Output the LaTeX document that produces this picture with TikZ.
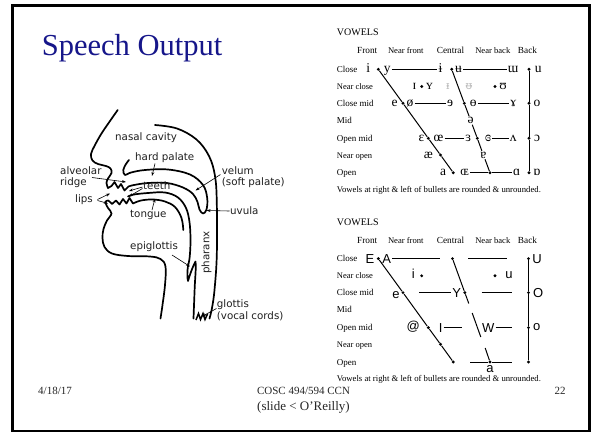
\documentclass[tikz,border=0pt]{standalone}
\usepackage{fontspec}
\setmainfont{Liberation Serif}
\newfontfamily\headfont{DejaVu Sans}
\newfontfamily\ipafont{Liberation Serif}
\newfontfamily\ipaextra{Noto Sans}
\newfontfamily\chartsans{Liberation Sans}
\usetikzlibrary{arrows.meta}
\definecolor{titleblue}{RGB}{22,22,138}
\definecolor{ipagray}{RGB}{190,190,190}
\newcommand\vchartframe[1]{%
  \node[vowtitle] (#1vow) at (336.7,35.8) {VOWELS};
  \node[colhead] (#1hF) at (367.2,53.7) {Front};
  \node[colheadsm] (#1hNF) at (405.8,53.7) {Near front};
  \node[colhead] (#1hC) at (450.5,53.7) {Central};
  \node[colheadsm] (#1hNB) at (492.8,53.7) {Near back};
  \node[colhead] (#1hB) at (527.5,53.7) {Back};
  \node[rowlab] (#1rC) at (336.7,72.3) {Close};
  \node[rowlabsm] (#1rNC) at (336.7,89.5) {Near close};
  \node[rowlab] (#1rCM) at (336.7,106.3) {Close mid};
  \node[rowlab] (#1rM) at (336.7,123.5) {Mid};
  \node[rowlab] (#1rOM) at (336.7,141.3) {Open mid};
  \node[rowlabsm] (#1rNO) at (336.7,158) {Near open};
  \node[rowlab] (#1rO) at (336.7,175.7) {Open};
  \node[notelab] (#1note) at (336.7,192.3) {Vowels at right \& left of bullets are rounded \& unrounded.};
}
\begin{document}
\begin{tikzpicture}[x=1pt,y=-1pt,
  headline/.style={line width=1.7pt, line cap=round, line join=round},
  hlbl/.style={anchor=base west, inner sep=0pt, text=black!88, font=\headfont\fontsize{10.3}{12}\selectfont},
  pointer/.style={line width=0.6pt, -{Stealth[length=4pt,width=2.8pt]}},
  vowtitle/.style={anchor=base west, inner sep=0pt, font=\fontsize{10}{12}\selectfont},
  colhead/.style={anchor=base, inner sep=0pt, font=\fontsize{9.3}{11}\selectfont},
  colheadsm/.style={anchor=base, inner sep=0pt, font=\fontsize{8.6}{10}\selectfont},
  rowlab/.style={anchor=base west, inner sep=0pt, font=\fontsize{9}{11}\selectfont},
  rowlabsm/.style={anchor=base west, inner sep=0pt, font=\fontsize{8.5}{10}\selectfont},
  notelab/.style={anchor=base west, inner sep=0pt, font=\fontsize{8.7}{10}\selectfont},
  ipa/.style={inner sep=1pt, text height=6pt, text depth=0pt, font=\ipafont\fontsize{13.5}{15}\selectfont},
  ipag/.style={inner sep=1pt, text height=6pt, text depth=0pt, text=ipagray, font=\ipaextra\fontsize{11}{13}\selectfont},
  sampa/.style={inner sep=1pt, text height=6pt, text depth=0pt, font=\chartsans\fontsize{13}{15}\selectfont},
  sampacap/.style={inner sep=1pt, text height=9pt, text depth=0pt, font=\chartsans\fontsize{13}{15}\selectfont},
  bul/.style={circle, fill, inner sep=0pt, minimum size=3.2pt},
  vline/.style={line width=1pt},
  foot/.style={inner sep=0pt, text=black!85, font=\fontsize{11}{13}\selectfont}
]
\useasboundingbox (0,0) rectangle (595,437);
\fill[white] (0,0) rectangle (595,437);
\draw[line width=2.4pt] (12.5,5.5) rectangle (589.3,431);

% ---------- title and footer ----------
\node[anchor=base west, inner sep=0pt, text=titleblue, font=\fontsize{30.5}{36}\selectfont] (title) at (41.7,55) {Speech Output};
\node[foot, anchor=base west] (date) at (38,394) {4/18/17};
\node[foot, anchor=base] (course) at (303.5,394) {COSC 494/594 CCN};
\node[foot, anchor=base] (page) at (560,394) {22};
\node[inner sep=0pt, anchor=base, text=black!85, font=\fontsize{13}{15}\selectfont] (credit) at (303.5,410.5) {(slide < O’Reilly)};

% ---------- head ----------
% face, upper lip, upper teeth, palate, velum, uvula
\draw[headline] plot[smooth, tension=0.6] coordinates {(117.7,110) (110,121) (101.5,133.5) (95,145) (91,154) (92.5,160.5) (98,164) (106,166) (110.5,168.5) (111.5,173) (108,178.5) (106.5,183) (108,188)}
  -- (111.5,186) -- (114.5,182) -- (118,188) -- (121,184) -- (124.5,190.5) -- (128.5,186.5)
  plot[smooth, tension=0.6] coordinates {(128.5,186.5) (134,185) (148,183) (167,183) (183,187.5) (193,194) (197.5,202) (199.5,209.5) (203,213.5) (206.5,209.5) (207.2,198) (203,185) (190,174.5) (168,169.5) (145,170) (131,172.5) (125,175) (123.3,170) (126,164) (129,160)};
% tongue, lower teeth, lower lip, chin, neck
\draw[headline] plot[smooth, tension=0.6] coordinates {(183.3,230) (181.5,218) (175,207) (165,201.5) (153,199.5) (141,200.5) (133,203.5)}
  -- (129.5,198) -- (126.5,203.5) -- (123,199) -- (119.5,204.5) -- (116,200.5) -- (112,204)
  plot[smooth, tension=0.6] coordinates {(112,204) (108,200.5) (105.5,202.5) (108,208) (111.5,213.5) (107,220.5) (103.5,229) (102.5,238) (104.5,247) (112,253.5) (128,256) (150,256.5) (160.5,259) (165.5,266.5) (165,285) (162.5,305) (160.5,318.5)};
% back of mouth, epiglottis, larynx front
\draw[headline] plot[smooth, tension=0.6] coordinates {(128,196.5) (134,194.5) (148,193) (165,192.5) (178,197.5) (186,208) (189.5,222) (190.5,240) (189.7,257) (188,266)}
  .. controls (187,272) and (187.3,278) .. (188,281)
  .. controls (190,274) and (193,266) .. (195.5,261.5)
  .. controls (196.3,268) and (195,278) .. (194.6,290) -- (193.5,318.5);
% back of head and pharynx
\draw[headline] plot[smooth, tension=0.6] coordinates {(155,125) (177,128.5) (196.5,139.5) (209,156) (215,176) (216.8,203) (216.8,255) (214.5,290) (212,308) (209.5,318.5)};
% glottis
\draw[line width=1.5pt, line join=miter] (196,320) -- (198.5,313.5) -- (200.5,319.5) -- (203,313.5) -- (205,319.5) -- (207.5,314);

% head labels
\node[hlbl] (nasal) at (115,140.5) {nasal cavity};
\node[hlbl] (hard) at (135,160.5) {hard palate};
\node[hlbl] (alv) at (60,174.3) {alveolar};
\node[hlbl] (ridge) at (60,185.3) {ridge};
\node[hlbl] (lips) at (75,202.3) {lips};
\node[hlbl] (teeth) at (143,189.5) {teeth};
\node[hlbl] (tongue) at (130,217.3) {tongue};
\node[hlbl] (velum) at (221.7,174.3) {velum};
\node[hlbl] (soft) at (221.7,185.3) {(soft palate)};
\node[hlbl] (uvula) at (230,214.5) {uvula};
\node[hlbl] (epi) at (130,249.5) {epiglottis};
\node[hlbl, anchor=base, rotate=90] (phar) at (209.3,252.5) {pharanx};
\node[hlbl] (glot) at (216.7,307.3) {glottis};
\node[hlbl] (vocal) at (216.7,319.3) {(vocal cords)};

% pointer ends
\coordinate (alvS) at (92,177.5);   \coordinate (alvT) at (126,182);
\coordinate (teS1) at (142.5,187);  \coordinate (teT1) at (129,191);
\coordinate (teS2) at (142.5,188.5);\coordinate (teT2) at (129,196.5);
\coordinate (liS1) at (97.5,199.5); \coordinate (liT1) at (110,193.5);
\coordinate (liS2) at (97.5,200.5); \coordinate (liT2) at (108,203.5);
\coordinate (hpS) at (155,163.5);   \coordinate (hpT) at (152,176);
\coordinate (veS) at (220.5,174.5); \coordinate (veT) at (195.5,190.5);
\coordinate (uvS) at (229.5,211);   \coordinate (uvT) at (206.5,210.5);
\coordinate (toS) at (152,210);     \coordinate (toT) at (155,198.5);
\coordinate (epS) at (172,255);     \coordinate (epT) at (190,266.5);
\coordinate (glS) at (216.5,308.5); \coordinate (glT) at (202,316.5);
\draw[pointer] (alvS) -- (alvT);
\draw[pointer] (teS1) -- (teT1);
\draw[pointer] (teS2) -- (teT2);
\draw[pointer] (liS1) -- (liT1);
\draw[pointer] (liS2) -- (liT2);
\draw[pointer] (hpS) -- (hpT);
\draw[pointer] (veS) -- (veT);
\draw[pointer] (uvS) -- (uvT);
\draw[pointer] (toS) -- (toT);
\draw[pointer] (epS) -- (epT);
\draw[pointer] (glS) -- (glT);

% ---------- vowel chart 1 (IPA) ----------
\begin{scope}
\vchartframe{A}
\node[bul] (Af1) at (378.3,69.3) {};
\node[bul] (Af3) at (403.0,103.3) {};
\node[bul] (Af5) at (428.3,138.3) {};
\node[bul] (Af6) at (440.5,155) {};
\node[bul] (Af7) at (453.3,172.7) {};
\node[bul] (Ac1) at (451.7,69.3) {};
\node[bul] (Ac3) at (464.3,103.3) {};
\node[bul] (Ac5) at (477.3,138.3) {};
\node[bul] (Ac7) at (490,172.7) {};
\node[bul] (Ab1) at (529,69.3) {};
\node[bul] (Ab3) at (529,103.3) {};
\node[bul] (Ab5) at (529,138.3) {};
\node[bul] (Ab7) at (529,172.7) {};
\node[bul] (An1) at (421.7,86.5) {};
\node[bul] (An2) at (495,86.5) {};
% close
\node[ipa] (Ai) at (368.3,69.3) {i};
\node[ipa] (Ay) at (387.3,69.3) {y};
\node[ipa] (Aibar) at (440.5,69.3) {ɨ};
\node[ipa] (Aubar) at (458.5,69.3) {ʉ};
\node[ipa] (Aturnm) at (513,69.3) {ɯ};
\node[ipa] (Au) at (538.3,69.3) {u};
% near close
\node[ipa] (Asmi) at (414.5,86.5) {ɪ};
\node[ipa] (Asmy) at (429.5,86.5) {ʏ};
\node[ipag] (Agi) at (448,86.5) {ᵻ};
\node[ipag] (Agu) at (469,86.5) {ᵿ};
\node[ipa] (Aups) at (503,86.5) {ʊ};
% close mid
\node[ipa] (Ae) at (394.5,103.3) {e};
\node[ipa] (Aosl) at (410,103.3) {ø};
\node[ipa] (Areve) at (450,103.3) {ɘ};
\node[ipa] (Abaro) at (473.3,103.3) {ɵ};
\node[ipa] (Aram) at (513.3,103.3) {ɤ};
\node[ipa] (Ao) at (537,103.3) {o};
% mid
\node[ipa] (Aschwa) at (470.7,120.5) {ə};
% open mid
\node[ipa] (Aeps) at (421.5,138.3) {ɛ};
\node[ipa] (Aoe) at (438.5,138.3) {œ};
\node[ipa] (Areveps) at (468.3,138.3) {ɜ};
\node[ipa] (Aclrev) at (488,138.3) {ɞ};
\node[ipa] (Awedge) at (513.3,138.3) {ʌ};
\node[ipa] (Aopo) at (537,138.3) {ɔ};
% near open
\node[ipa] (Aash) at (428.3,155) {æ};
\node[ipa] (Aturna) at (483.4,155) {ɐ};
% open
\node[ipa] (Aa) at (443,172.7) {a};
\node[ipa] (Aoeop) at (464.5,172.7) {ɶ};
\node[ipa] (Ascra) at (516.7,172.7) {ɑ};
\node[ipa] (Aturnscr) at (537,172.7) {ɒ};
% lines
\draw[vline] (Ay) -- (Aibar);
\draw[vline] (Aubar) -- (Aturnm);
\draw[vline] (Aosl) -- (Areve);
\draw[vline] (Abaro) -- (Aram);
\draw[vline] (Aoe) -- (Areveps);
\draw[vline] (Aclrev) -- (Awedge);
\draw[vline] (Aoeop) -- (Ac7) -- (Ascra);
\draw[vline] (Af1) -- (Af3) -- (Af5) -- (Af6) -- (Af7);
\draw[vline] (Ac1) -- (Ac3) -- (Aschwa) -- (Ac5) -- (Aturna) -- (Ac7);
\draw[vline] (Ab1) -- (Ab3) -- (Ab5) -- (Ab7);
\end{scope}

% ---------- vowel chart 2 (ASCII) ----------
\begin{scope}[shift={(0,189.3)}]
\vchartframe{B}
\node[bul] (Bf1) at (378.3,69.3) {};
\node[bul] (Bf3) at (403.0,103.3) {};
\node[bul] (Bf5) at (428.3,138.3) {};
\node[bul] (Bf6) at (440.5,155) {};
\node[bul] (Bf7) at (453.3,172.7) {};
\node[bul] (Bc1) at (452.5,69.3) {};
\node[bul] (Bc3) at (464.8,103.3) {};
\node[bul] (Bc7) at (490,172.7) {};
\node[bul] (Bb1) at (528.5,69.3) {};
\node[bul] (Bb3) at (528.5,103.3) {};
\node[bul] (Bb5) at (528.5,138.3) {};
\node[bul] (Bb7) at (528.5,172.7) {};
\node[bul] (Bn1) at (421.7,86.5) {};
\node[bul] (Bn2) at (495,86.5) {};
\node[sampacap] (BE) at (370,69.3) {E};
\node[sampacap] (BA) at (386.7,69.3) {A};
\node[sampacap] (BU) at (537,69.3) {U};
\node[sampa] (Bi) at (413.3,86.5) {i};
\node[sampa] (Bu) at (509,86.5) {u};
\node[sampa] (Be) at (396,106.3) {e};
\node[sampacap] (BY) at (456.7,103.3) {Y};
\node[sampacap] (BO) at (538.3,103.3) {O};
\node[sampa] (Bat) at (413.3,138.3) {@};
\node[sampacap] (BI) at (440.7,138.3) {I};
\node[sampacap] (BW) at (488.3,138.3) {W};
\node[sampa] (Bo) at (536.7,138.3) {o};
\node[sampa] (Ba) at (490,180) {a};
% free line ends
\coordinate (Bk1) at (440,69.3);
\coordinate (Bk2) at (468,69.3);
\coordinate (Bk3) at (506.7,69.3);
\coordinate (Bk4) at (419.3,103.3);
\coordinate (Bk5) at (481.7,103.3);
\coordinate (Bk6) at (511.7,103.3);
\coordinate (Bk7) at (461.7,138.3);
\coordinate (Bk8) at (511.7,138.3);
\coordinate (Bk9) at (470,172.7);
\coordinate (Bk10) at (511.7,172.7);
\coordinate (Bm1) at (468.8,114.2);
\coordinate (Bm2) at (472.2,123.7);
\coordinate (Bm3) at (480.8,147.7);
\coordinate (Bm4) at (485.2,158.7);
\draw[vline] (BA) -- (Bk1);
\draw[vline] (Bk2) -- (Bk3);
\draw[vline] (Bk4) -- (BY);
\draw[vline] (Bk5) -- (Bk6);
\draw[vline] (BI) -- (Bk7);
\draw[vline] (BW) -- (Bk8);
\draw[vline] (Bk9) -- (Bc7) -- (Bk10);
\draw[vline] (Bf1) -- (Bf3) -- (Bf5) -- (Bf6) -- (Bf7);
\draw[vline] (Bc1) -- (Bc3) -- (Bm1);
\draw[vline] (Bm2) -- (Bm3);
\draw[vline] (Bm4) -- (Bc7);
\draw[vline] (Bb1) -- (Bb3) -- (Bb5) -- (Bb7);
\end{scope}
\end{tikzpicture}
\end{document}
